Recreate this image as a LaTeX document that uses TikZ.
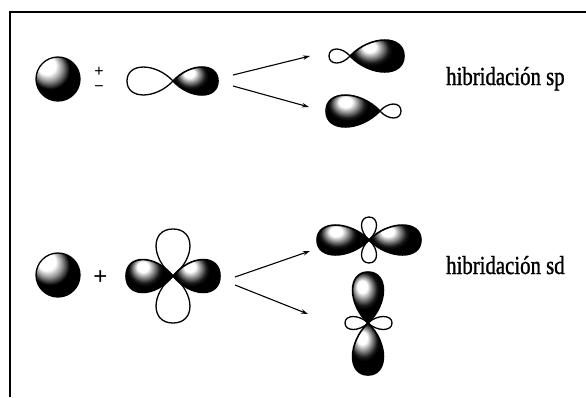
\documentclass[tikz,border=0pt]{standalone}
\usepackage{fontspec}
\setmainfont{Liberation Serif}
\newfontfamily\signfont{Liberation Sans}
\newfontfamily\hybfont[FakeStretch=0.8,FakeBold=1.2]{Liberation Serif}
\usetikzlibrary{arrows.meta}

% dark lobe: black with a highlight toward the upper left
\pgfdeclareradialshading{lobeshade}{\pgfpoint{-8bp}{12bp}}{%
  color(0bp)=(white); color(6bp)=(white); color(11bp)=(black!45);
  color(16bp)=(black!90); color(19bp)=(black); color(50bp)=(black)}
% s orbital sphere
\pgfdeclareradialshading{sphereshade}{\pgfpoint{-16bp}{19bp}}{%
  color(0bp)=(white); color(10bp)=(white); color(16bp)=(black!45);
  color(22bp)=(black); color(50bp)=(black)}

\tikzset{
  outline/.style={draw=black, line width=1.3pt, line join=round},
  whitelobe/.style={outline, fill=white},
  darklobe/.style={outline, line width=1.6pt, shade, shading=lobeshade},
  sphere/.style={outline, shade, shading=sphereshade},
  frame/.style={line width=2.6pt},
  react/.style={line width=1.1pt, -{Stealth[length=7pt,width=4.5pt]}},
  hyb/.style={font=\hybfont\fontsize{26}{30}\selectfont, inner sep=0pt, anchor=base west},
  sign/.style={font=\signfont\fontsize{16}{18}\selectfont, inner sep=0pt},
  bigsign/.style={font=\signfont\fontsize{24}{26}\selectfont, inner sep=0pt},
  % teardrop lobe from the origin along +x: length #1, half width #2, style #3
  pics/lobe/.style n args={3}{code={
    \path[#3] (0,0) .. controls ({0.38*#1},{1.33*#2}) and ({#1},{1.33*#2}) .. ({#1},0)
      .. controls ({#1},{-1.33*#2}) and ({0.38*#1},{-1.33*#2}) .. (0,0) -- cycle;
  }}
}

\begin{document}
\begin{tikzpicture}[x=1pt,y=-1pt]
\useasboundingbox (0,0) rectangle (586,397);

% frame
\draw[frame] (10,397) -- (10,12) -- (586,12);

% ---------- sp row ----------
\path[sphere] (58,79) circle (22) node (s1) {};
\node[sign] (pm1) at (99,71.5) {+};
\node[sign] (pm2) at (99,88.5) {−};

% p orbital
\coordinate (p) at (173,81);
\pic[rotate=180] at (p) {lobe={46}{14}{whitelobe}};
\pic at (p) {lobe={45}{14}{darklobe}};

% sp hybrids
\coordinate (spa) at (350,56);
\pic[rotate=180] at (spa) {lobe={21}{7}{whitelobe}};
\pic at (spa) {lobe={54}{16}{darklobe}};
\coordinate (spb) at (380,111);
\pic at (spb) {lobe={21}{7}{whitelobe}};
\pic[rotate=180] at (spb) {lobe={54}{16}{darklobe}};

\coordinate (a1s) at (233,75);  \coordinate (a1e) at (310,56);
\coordinate (a2s) at (233,86);  \coordinate (a2e) at (309,107);
\draw[react] (a1s) -- (a1e);
\draw[react] (a2s) -- (a2e);

\node[hyb] (lsp) at (446,85) {hibridación sp};

% ---------- sd row ----------
\path[sphere] (58,275) circle (22) node (s2) {};
\node[bigsign] (pl) at (100.5,278) {+};

% d orbital
\coordinate (d) at (173,276);
\pic[rotate=90] at (d) {lobe={47}{17}{whitelobe}};
\pic[rotate=-90] at (d) {lobe={47}{17}{whitelobe}};
\pic[rotate=180] at (d) {lobe={47}{16.5}{darklobe}};
\pic at (d) {lobe={47}{16.5}{darklobe}};

% sd hybrids
\coordinate (sda) at (369,240);
\pic[rotate=90] at (sda) {lobe={23}{7.5}{whitelobe}};
\pic[rotate=-90] at (sda) {lobe={23}{7.5}{whitelobe}};
\pic[rotate=180] at (sda) {lobe={52}{15}{darklobe}};
\pic at (sda) {lobe={52}{15}{darklobe}};
\coordinate (sdb) at (368,323);
\pic[rotate=180] at (sdb) {lobe={23}{6.5}{whitelobe}};
\pic at (sdb) {lobe={24}{6.5}{whitelobe}};
\pic[rotate=90] at (sdb) {lobe={51}{15.5}{darklobe}};
\pic[rotate=-90] at (sdb) {lobe={52}{15.5}{darklobe}};

\coordinate (b1s) at (235,277);  \coordinate (b1e) at (310,251);
\coordinate (b2s) at (235,285);  \coordinate (b2e) at (308,314);
\draw[react] (b1s) -- (b1e);
\draw[react] (b2s) -- (b2e);

\node[hyb] (lsd) at (446,274) {hibridación sd};
\end{tikzpicture}
\end{document}
